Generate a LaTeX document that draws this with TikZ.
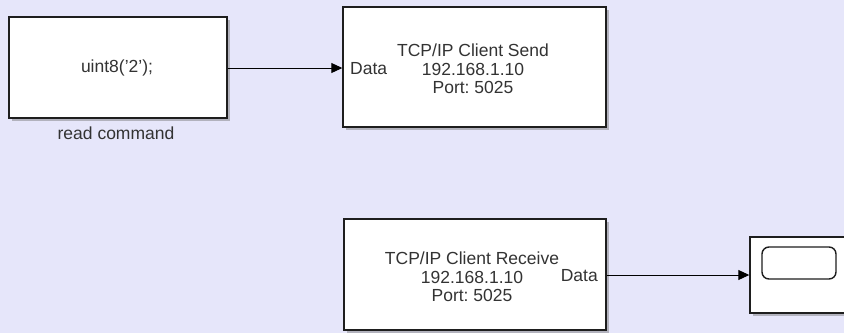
\documentclass[tikz,border=0pt]{standalone}
\usepackage{fontspec}
\setmainfont{Liberation Sans}
\frenchspacing
\usetikzlibrary{arrows.meta,shadows}
\definecolor{canvas}{RGB}{230,230,250}
\definecolor{edge}{RGB}{30,30,30}
\tikzset{
  blk/.style={draw=edge, line width=1.4pt, fill=white, inner sep=0pt,
    drop shadow={shadow xshift=3pt, shadow yshift=-3pt, opacity=0.45, fill=black!55}},
  txt/.style={font=\fontsize{17.5}{18.6}\selectfont, text=black!80, inner sep=0pt, align=center},
  wire/.style={draw=black, line width=1pt, -{Triangle[length=11pt,width=10pt]}},
}
\begin{document}
\begin{tikzpicture}[x=1pt,y=-1pt]
\useasboundingbox (0,0) rectangle (844,333);
\fill[canvas] (0,0) rectangle (844,333);
\clip (0,0) rectangle (844,333);
% blocks
\node[blk, minimum width=218pt, minimum height=101pt] (cmd) at (118,67.5) {};
\node[txt] (cmdtxt) at (117,68) {uint8('2');};
\node[txt, anchor=north] (cmdlbl) at (116,127) {read command};
\node[blk, minimum width=263pt, minimum height=120pt] (send) at (474.5,67) {};
\node[txt] (sendtxt) at (473,69) {TCP/IP Client Send\\192.168.1.10\\Port: 5025};
\node[txt, anchor=west] (sendport) at (350,69) {Data};
\node[blk, minimum width=262pt, minimum height=111pt] (recv) at (475,274.5) {};
\node[txt] (recvtxt) at (472,277) {TCP/IP Client Receive\\192.168.1.10\\Port: 5025};
\node[txt, anchor=east] (recvport) at (598,276) {Data};
\node[blk, minimum width=100pt, minimum height=76pt] (scope) at (800,275) {};
\draw[edge, line width=1.4pt, rounded corners=7pt] (762,247) rectangle (836,279);
% wires
\coordinate (a1) at (cmd.east |- 0,68);
\coordinate (a2) at (send.west |- 0,68);
\draw[wire] (a1) -- (a2);
\coordinate (b1) at (recv.east |- 0,275);
\coordinate (b2) at (scope.west |- 0,275);
\draw[wire] (b1) -- (b2);
\end{tikzpicture}
\end{document}
